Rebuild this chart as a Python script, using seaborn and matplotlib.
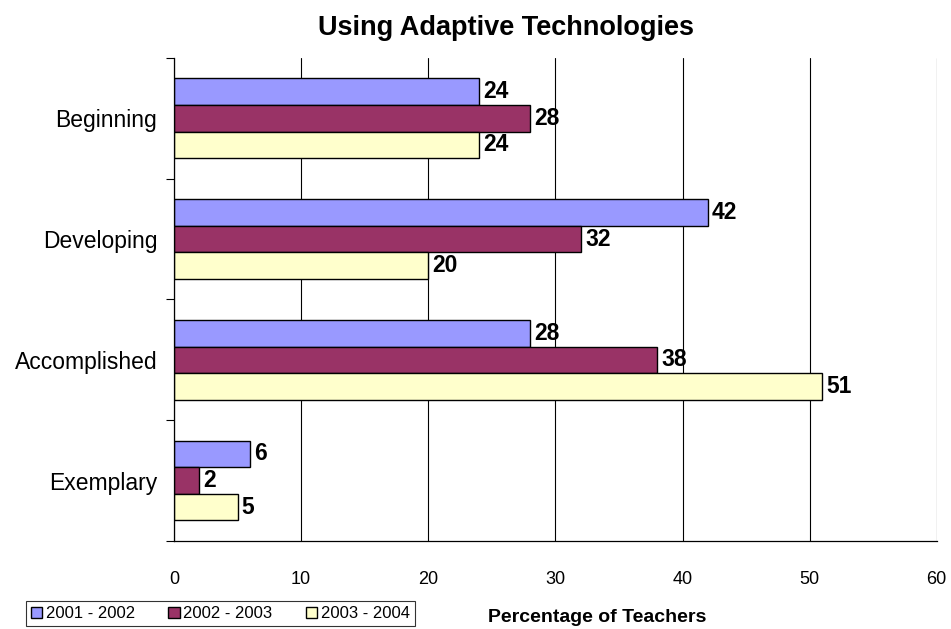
import matplotlib
matplotlib.use("Agg")
import matplotlib.pyplot as plt
import seaborn as sns
import pandas as pd
from matplotlib.ticker import FixedLocator

categories = ["Beginning", "Developing", "Accomplished", "Exemplary"]
years = ["2001 - 2002", "2002 - 2003", "2003 - 2004"]
vals_2001 = [24, 42, 28, 6]
vals_2002 = [28, 32, 38, 2]
vals_2003 = [24, 20, 51, 5]
colors = ["#9999FF", "#993366", "#FFFFCC"]

rows = []
for year, vals in zip(years, [vals_2001, vals_2002, vals_2003]):
    for cat, v in zip(categories, vals):
        rows.append({"category": cat, "year": year, "value": v})
df = pd.DataFrame(rows)

sns.set_style("white")
plt.rcParams["font.family"] = ["Liberation Sans", "DejaVu Sans"]
plt.rcParams["text.color"] = "black"
plt.rcParams["xtick.color"] = "black"
plt.rcParams["ytick.color"] = "black"

fig = plt.figure(figsize=(9.51, 6.29), dpi=100)
ax = fig.add_axes([0.183, 0.140, 0.802, 0.768])

sns.barplot(data=df, y="category", x="value", hue="year", order=categories,
            hue_order=years, palette=colors, orient="h", width=0.66,
            edgecolor="black", linewidth=1.0, saturation=1, ax=ax)

for container in ax.containers:
    ax.bar_label(container, fmt="%d", padding=3, fontsize=16.5, fontweight="bold",
                 color="black")

ax.set_xlim(0, 60)
ax.set_ylim(3.5, -0.5)
ax.set_xticks(range(0, 61, 10))
ax.tick_params(axis="x", labelsize=13, length=0, pad=22)
ax.tick_params(axis="y", labelsize=16.5, length=0, pad=12)
ax.yaxis.set_minor_locator(FixedLocator([-0.5, 0.5, 1.5, 2.5, 3.5]))
ax.tick_params(axis="y", which="minor", left=True, length=6, width=0.8, color="black")
ax.xaxis.grid(True, color="black", linewidth=0.8)
ax.set_axisbelow(True)
for s in ["top", "right"]:
    ax.spines[s].set_visible(False)
for s in ["left", "bottom"]:
    ax.spines[s].set_color("black")
    ax.spines[s].set_linewidth(0.9)

ax.set_ylabel("")
ax.set_xlabel("")
fig.text(0.532, 0.955, "Using Adaptive Technologies", ha="center", va="center",
         fontsize=19.5, fontweight="bold")
fig.text(0.628, 0.0175, "Percentage of Teachers", ha="center", va="center",
         fontsize=14, fontweight="bold")

handles, labels = ax.get_legend_handles_labels()
ax.legend_.remove()
leg = fig.legend(handles, labels, loc="lower left", bbox_to_anchor=(0.027, 0.004),
                 ncol=3, frameon=True, fancybox=False, edgecolor="black",
                 fontsize=12, handlelength=0.7, handleheight=0.7, handletextpad=0.2,
                 columnspacing=2.0, borderpad=0.3, borderaxespad=0)
leg.get_frame().set_linewidth(0.8)

fig.savefig("out.png", dpi=100)
